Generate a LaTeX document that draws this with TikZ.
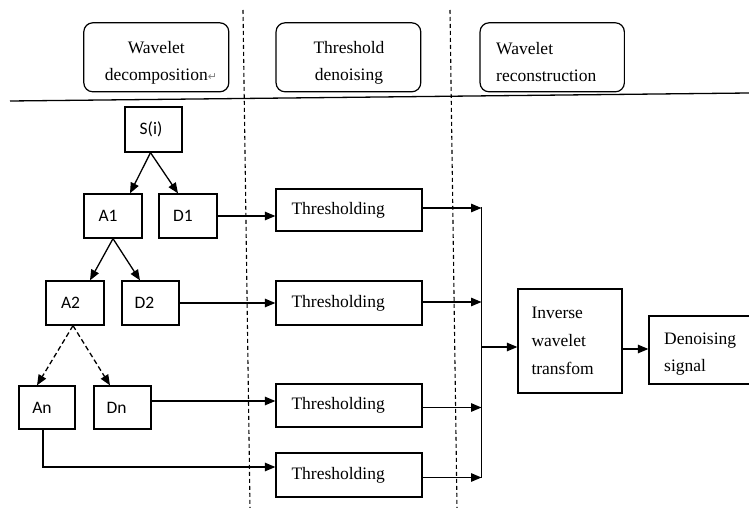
\documentclass[tikz,border=0pt]{standalone}
\usepackage{fontspec}
\setmainfont{Liberation Serif}
\newfontfamily\sansf{Carlito}
\newfontfamily\symf{DejaVu Sans}
\usetikzlibrary{arrows.meta}
\begin{document}
\begin{tikzpicture}[x=1pt,y=-1pt,
  every node/.style={font=\fontsize{17.5}{27}\selectfont},
  ln/.style={line width=1.3pt},
  arr/.style={line width=1.3pt, -{Triangle[length=10.5pt,width=8.5pt]}},
  dsh/.style={dash pattern=on 5pt off 3pt},
  sepline/.style={line width=1.1pt, dash pattern=on 4pt off 3pt},
  tbox/.style={draw, line width=1.3pt, inner sep=0pt, font=\sansf\fontsize{17.5}{21}\selectfont},
  hbox/.style={draw, line width=1.2pt, rounded corners=9pt, minimum height=69pt, inner sep=0pt},
  htext/.style={inner sep=0pt, align=center},
  thr/.style={draw, line width=1.3pt, inner xsep=15.5pt, inner ysep=0pt, text width=115pt, align=left},
  bigbox/.style={draw, line width=1.3pt, inner ysep=0pt, align=left}
]
\useasboundingbox (0,0) rectangle (749,508);
\fill[white] (0,0) rectangle (749,508);

% header boxes
\node[hbox, minimum width=145pt] (h1) at (156.3,57.3) {};
\node[htext] (h1t) at (156.3,62.4) {Wavelet\\decomposition\rlap{\symf\fontsize{11}{11}\selectfont\color{gray}↵}};
\node[hbox, minimum width=144.7pt] (h2) at (348.4,57.3) {};
\node[htext] (h2t) at (349,62.4) {Threshold\\denoising};
\node[hbox, minimum width=144.3pt] (h3) at (552.2,57.3) {};
\node[inner sep=0pt, align=left, anchor=west] (h3t) at (496,62.4) {Wavelet\\reconstruction};

% separator lines
\coordinate (hl1) at (10,101);
\coordinate (hl2) at (749,93);
\draw[ln] (hl1) -- (hl2);
\coordinate (v1t) at (243,10);
\coordinate (v1b) at (250,508);
\coordinate (v2t) at (450,10);
\coordinate (v2b) at (457,508);
\draw[sepline] (v1t) -- (v1b);
\draw[sepline] (v2t) -- (v2b);

% tree
\node[tbox, minimum width=57pt, minimum height=45pt] (S) at (153.5,129.5) {S(i)\hspace*{5pt}};
\node[tbox, minimum width=58pt, minimum height=44pt] (A1) at (113,216) {A1\hspace*{10pt}};
\node[tbox, minimum width=58pt, minimum height=44pt] (D1) at (188,216) {D1\hspace*{10pt}};
\node[tbox, minimum width=58pt, minimum height=44pt] (A2) at (75,303) {A2\hspace*{9pt}};
\node[tbox, minimum width=57pt, minimum height=44pt] (D2) at (150.5,303) {D2\hspace*{12pt}};
\node[tbox, minimum width=56pt, minimum height=43pt] (An) at (47,407.5) {An\hspace*{10pt}};
\node[tbox, minimum width=57pt, minimum height=43pt] (Dn) at (122.5,407.5) {Dn\hspace*{12pt}};

\draw[arr] ([xshift=-3pt]S.south) -- ([xshift=17pt]A1.north);
\draw[arr] ([xshift=-3pt]S.south) -- ([xshift=-10pt]D1.north);
\draw[arr] (A1.south) -- ([xshift=15pt]A2.north);
\draw[arr] (A1.south) -- ([xshift=-10.5pt]D2.north);
\draw[arr, dsh] ([xshift=-2pt]A2.south) -- ([xshift=-10pt]An.north);
\draw[arr, dsh] ([xshift=-2pt]A2.south) -- ([xshift=-12.5pt]Dn.north);

% thresholding
\node[thr, minimum height=42pt] (T1) at (349,210) {Thresholding};
\node[thr, minimum height=44pt] (T2) at (349,303) {Thresholding};
\node[thr, minimum height=43pt] (T3) at (349,405.5) {Thresholding};
\node[thr, minimum height=44pt] (T4) at (349,475) {Thresholding};

\draw[arr] (D1.east) -- (D1.east -| T1.west);
\draw[arr] (D2.east) -- (D2.east -| T2.west);
\draw[arr] ([yshift=6.5pt]Dn.east) -- ([yshift=6.5pt]Dn.east -| T3.west);
\draw[arr] ([xshift=-4pt]An.south) |- ([yshift=8pt]T4.west);

% bus
\coordinate (bus) at (481.5,347);
\draw[arr] ([yshift=2pt]T1.east) -- ([yshift=2pt]T1.east -| bus);
\draw[arr] ([yshift=1pt]T2.east) -- ([yshift=1pt]T2.east -| bus);
\draw[arr] ([yshift=-2pt]T3.east) -- ([yshift=-2pt]T3.east -| bus);
\draw[arr] ([yshift=-2.5pt]T4.east) -- ([yshift=-2.5pt]T4.east -| bus);
\draw[ln, line cap=rect] ([yshift=2pt]T1.east -| bus) -- ([yshift=-2.5pt]T4.east -| bus);

% reconstruction
\node[bigbox, inner xsep=13.5pt, text width=77pt, minimum height=104pt, font=\fontsize{17.5}{28}\selectfont] (inv) at (570,341) {Inverse\\wavelet\\transfom};
\draw[arr] (bus) -- (bus -| inv.west);

\node[draw, line width=1.3pt, minimum width=103pt, minimum height=68pt, inner sep=0pt] (den) at (700.5,350) {};
\node[inner sep=0pt, align=left, anchor=west] (dent) at (664,354) {Denoising\\signal};
\draw[arr] ([yshift=-8pt]inv.east) -- ([yshift=-8pt]inv.east -| den.west);
\end{tikzpicture}
\end{document}
